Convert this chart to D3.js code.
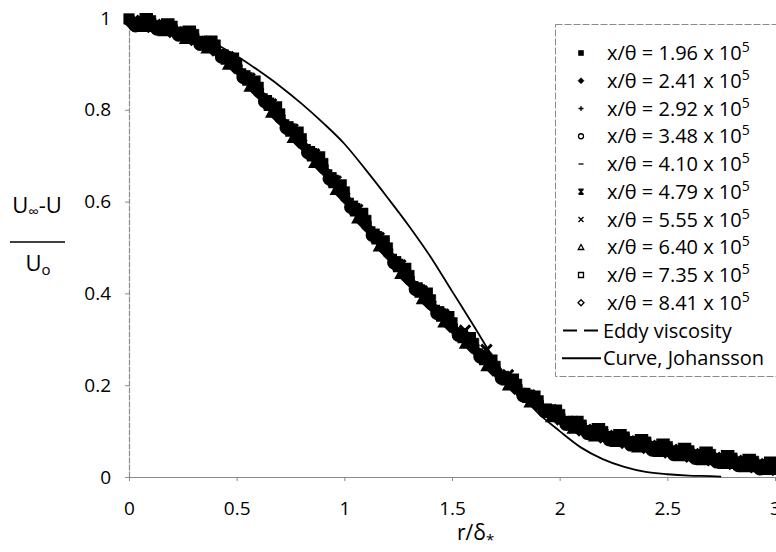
<!DOCTYPE html>
<html><head><meta charset="utf-8">
<script src="https://cdn.jsdelivr.net/npm/d3@7"></script>
<style>
html,body{margin:0;padding:0;background:#fff;}
svg{display:block;font-family:"Open Sans","Noto Sans",sans-serif;}
</style></head>
<body>
<svg id="chart" width="776" height="552"></svg>
<script>
// ---------- DATA ----------
const xTicks = [0, 0.5, 1, 1.5, 2, 2.5, 3];
const yTicks = [0, 0.2, 0.4, 0.6, 0.8, 1];
const seriesLabels = ["1.96", "2.41", "2.92", "3.48", "4.10", "4.79", "5.55", "6.40", "7.35", "8.41"];
const markerTypes = ["fsquare", "fdiamond", "plus", "circle", "dash", "star", "cross", "triangle", "square", "diamond"];

const r196 = [0,0.1,0.2,0.3,0.4,0.5,0.6,0.7,0.8,0.9,1,1.1,1.2,1.3,1.4,1.5,1.6,1.7,1.8,1.9,2,2.1,2.2,2.3,2.4,2.5,2.6,2.7,2.8,2.9,3];
const v196 = [0.998,0.994,0.982,0.964,0.941,0.901,0.849,0.791,0.737,0.683,0.621,0.559,0.499,0.439,0.386,0.336,0.291,0.241,0.202,0.166,0.136,0.113,0.099,0.087,0.076,0.066,0.057,0.049,0.041,0.034,0.028];
const r241 = [0.01,0.11,0.21,0.31,0.41,0.51,0.61,0.71,0.81,0.91,1.01,1.11,1.21,1.31,1.41,1.51,1.61,1.71,1.81,1.91,2.01,2.11,2.21,2.31,2.41,2.51,2.61,2.71,2.81,2.91];
const v241 = [0.987,0.982,0.969,0.951,0.926,0.885,0.832,0.775,0.721,0.666,0.604,0.542,0.482,0.423,0.370,0.321,0.275,0.226,0.187,0.152,0.123,0.101,0.087,0.075,0.064,0.054,0.045,0.037,0.029,0.022];
const r292 = [0.02,0.12,0.22,0.32,0.42,0.52,0.62,0.72,0.82,0.92,1.02,1.12,1.22,1.32,1.42,1.52,1.62,1.72,1.82,1.92,2.02,2.12,2.22,2.32,2.42,2.52,2.62,2.72,2.82,2.92];
const v292 = [0.993,0.988,0.974,0.955,0.929,0.887,0.833,0.776,0.722,0.667,0.605,0.543,0.483,0.424,0.372,0.323,0.277,0.229,0.191,0.156,0.127,0.106,0.093,0.081,0.070,0.060,0.051,0.043,0.036,0.029];
const r348 = [0.03,0.13,0.23,0.33,0.43,0.53,0.63,0.73,0.83,0.93,1.03,1.13,1.23,1.33,1.43,1.53,1.63,1.73,1.83,1.93,2.03,2.13,2.23,2.33,2.43,2.53,2.63,2.73,2.83,2.93];
const v348 = [0.983,0.976,0.963,0.943,0.915,0.871,0.818,0.761,0.707,0.650,0.588,0.527,0.467,0.409,0.357,0.309,0.262,0.215,0.177,0.143,0.115,0.095,0.081,0.070,0.059,0.049,0.041,0.033,0.025,0.018];
const r410 = [0.04,0.14,0.24,0.34,0.44,0.54,0.64,0.74,0.84,0.94,1.04,1.14,1.24,1.34,1.44,1.54,1.64,1.74,1.84,1.94,2.04,2.14,2.24,2.34,2.44,2.54,2.64,2.74,2.84,2.94];
const v410 = [0.999,0.992,0.978,0.958,0.928,0.883,0.829,0.772,0.718,0.661,0.599,0.538,0.478,0.421,0.369,0.321,0.274,0.228,0.191,0.157,0.130,0.110,0.097,0.086,0.075,0.065,0.057,0.049,0.041,0.035];
const r479 = [0.05,0.15,0.25,0.35,0.45,0.55,0.65,0.75,0.85,0.95,1.05,1.15,1.25,1.35,1.45,1.55,1.65,1.75,1.85,1.95,2.05,2.15,2.25,2.35,2.45,2.55,2.65,2.75,2.85,2.95];
const v479 = [0.988,0.980,0.965,0.945,0.913,0.867,0.812,0.756,0.702,0.644,0.582,0.521,0.461,0.405,0.353,0.306,0.258,0.214,0.176,0.143,0.117,0.098,0.085,0.074,0.063,0.054,0.045,0.037,0.030,0.023];
const r555 = [0.06,0.16,0.26,0.36,0.46,0.56,0.66,0.76,0.86,0.96,1.06,1.16,1.26,1.36,1.46,1.56,1.66,1.76,1.86,1.96,2.06,2.16,2.26,2.36,2.46,2.56,2.66,2.76,2.86,2.96];
const v555 = [0.994,0.985,0.969,0.948,0.915,0.868,0.812,0.757,0.703,0.644,0.582,0.521,0.461,0.405,0.354,0.319,0.277,0.222,0.178,0.146,0.120,0.103,0.090,0.078,0.068,0.059,0.050,0.042,0.035,0.028];
const r640 = [0.07,0.17,0.27,0.37,0.47,0.57,0.67,0.77,0.87,0.97,1.07,1.17,1.27,1.37,1.47,1.57,1.67,1.77,1.87,1.97,2.07,2.17,2.27,2.37,2.47,2.57,2.67,2.77,2.87,2.97];
const v640 = [0.983,0.974,0.957,0.936,0.901,0.853,0.796,0.741,0.687,0.628,0.566,0.505,0.445,0.390,0.339,0.293,0.244,0.202,0.165,0.133,0.108,0.091,0.079,0.067,0.057,0.048,0.039,0.031,0.024,0.018];
const r735 = [0.08,0.18,0.28,0.38,0.48,0.58,0.68,0.78,0.88,0.98,1.08,1.18,1.28,1.38,1.48,1.58,1.68,1.78,1.88,1.98,2.08,2.18,2.28,2.38,2.48,2.58,2.68,2.78,2.88,2.98];
const v735 = [0.996,0.985,0.969,0.947,0.910,0.860,0.804,0.749,0.695,0.634,0.572,0.512,0.452,0.398,0.347,0.301,0.252,0.211,0.174,0.143,0.119,0.103,0.090,0.079,0.069,0.060,0.052,0.044,0.036,0.030];
const r841 = [0.09,0.19,0.29,0.39,0.49,0.59,0.69,0.79,0.89,0.99,1.09,1.19,1.29,1.39,1.49,1.59,1.69,1.79,1.89,1.99,2.09,2.19,2.29,2.39,2.49,2.59,2.69,2.79,2.89,2.99];
const v841 = [0.985,0.974,0.957,0.934,0.896,0.845,0.788,0.733,0.679,0.618,0.556,0.496,0.436,0.382,0.332,0.287,0.237,0.197,0.161,0.130,0.106,0.091,0.079,0.068,0.058,0.049,0.041,0.033,0.026,0.020];

// Curve, Johansson
const johR = [0,0.1,0.2,0.3,0.4,0.5,0.6,0.7,0.8,0.9,1.0,1.1,1.2,1.3,1.4,1.5,1.6,1.7,1.8,1.9,2.0,2.1,2.2,2.3,2.4,2.5,2.6,2.7,2.75];
const johV = [0.995,0.990,0.979,0.963,0.944,0.917,0.886,0.852,0.814,0.772,0.726,0.669,0.609,0.547,0.480,0.405,0.330,0.254,0.190,0.139,0.100,0.064,0.039,0.022,0.011,0.006,0.003,0.002,0.001];

const seriesR = [r196, r241, r292, r348, r410, r479, r555, r640, r735, r841];
const seriesV = [v196, v241, v292, v348, v410, v479, v555, v640, v735, v841];

// ---------- CHART ----------
const svg = d3.select("#chart");
const x = d3.scaleLinear().domain([0, 3]).range([129, 775]);
const y = d3.scaleLinear().domain([0, 1]).range([477, 18]);

// axes
const xAxis = svg.append("g").attr("transform", `translate(0,${y(0)})`)
  .call(d3.axisBottom(x).tickValues(xTicks).tickFormat(d3.format("")).tickSizeInner(4).tickSizeOuter(0).tickPadding(21));
const yAxis = svg.append("g").attr("transform", `translate(${x(0)},0)`)
  .call(d3.axisLeft(y).tickValues(yTicks).tickFormat(d3.format("")).tickSizeInner(4).tickSizeOuter(0).tickPadding(14));
[xAxis, yAxis].forEach(g => {
  g.select(".domain").attr("stroke", "#8a8a8a").attr("stroke-width", 1.2);
  g.selectAll(".tick line").attr("stroke", "#8a8a8a");
  g.selectAll(".tick text").attr("fill", "#000").attr("font-size", 19).attr("font-family", "Open Sans, sans-serif");
});
yAxis.select(".domain").attr("stroke-dasharray", "6,1");

// marker shapes
function markerPath(type, s) {
  const h = s / 2;
  switch (type) {
    case "fsquare": case "square": return `M${-h},${-h}H${h}V${h}H${-h}Z`;
    case "fdiamond": case "diamond": return `M0,${-h * 1.2}L${h * 1.2},0L0,${h * 1.2}L${-h * 1.2},0Z`;
    case "plus": return `M${-h},0H${h}M0,${-h}V${h}`;
    case "circle": return d3.arc()({innerRadius: 0, outerRadius: h, startAngle: 0, endAngle: 2 * Math.PI});
    case "dash": return `M${-h},0H${h}`;
    case "star": return `M${-h},${-h}L${h},${h}M${h},${-h}L${-h},${h}M0,${-h}V${h}M${-h},${-h}H${h}M${-h},${h}H${h}`;
    case "cross": return `M${-h},${-h}L${h},${h}M${h},${-h}L${-h},${h}`;
    case "triangle": return `M0,${-h * 1.1}L${h * 1.1},${h * 0.9}L${-h * 1.1},${h * 0.9}Z`;
  }
}
function styleMarker(sel, type, solid) {
  const filled = type === "fsquare" || type === "fdiamond";
  sel.attr("fill", (filled || solid) ? "#000" : "none")
     .attr("stroke", "#000")
     .attr("stroke-width", filled ? 0.6 : (solid ? 3 : 1.3));
}

// data markers (dense overlap -> solid black band, as in the printed figure)
const plot = svg.append("g");
seriesR.forEach((rs, k) => {
  const pts = rs.map((r, i) => ({r: r, v: seriesV[k][i]}));
  plot.append("g").selectAll("path").data(pts).join("path")
    .attr("transform", d => `translate(${x(d.r)},${y(d.v)})`)
    .attr("d", markerPath(markerTypes[k], 10.5))
    .call(styleMarker, markerTypes[k], true);
});

// Johansson curve
const johData = johR.map((r, i) => ({r: r, v: johV[i]}));
svg.append("path").datum(johData)
  .attr("fill", "none").attr("stroke", "#000").attr("stroke-width", 1.8)
  .attr("d", d3.line().x(d => x(d.r)).y(d => y(d.v)).curve(d3.curveMonotoneX));

// legend
const lg = svg.append("g");
lg.append("rect").attr("x", 555.5).attr("y", 24.5).attr("width", 230).attr("height", 352)
  .attr("fill", "#fff").attr("stroke", "#8a8a8a").attr("stroke-width", 1).attr("stroke-dasharray", "7,2");
const rowY = i => 53 + 27.75 * i;
seriesLabels.forEach((lab, i) => {
  lg.append("path").attr("transform", `translate(581,${rowY(i)})`)
    .attr("d", markerPath(markerTypes[i], 5)).call(styleMarker, markerTypes[i], false);
  const t = lg.append("text").attr("x", 607).attr("y", rowY(i) + 7)
    .attr("font-size", 20).attr("fill", "#000");
  t.append("tspan").text(`x/θ = ${lab} x 10`);
  t.append("tspan").attr("dy", -8).attr("font-size", 14).text("5");
});
// Eddy viscosity
lg.append("line").attr("x1", 563).attr("x2", 599).attr("y1", rowY(10)).attr("y2", rowY(10))
  .attr("stroke", "#000").attr("stroke-width", 2).attr("stroke-dasharray", "14,7");
lg.append("text").attr("x", 603).attr("y", rowY(10) + 7).attr("font-size", 20).text("Eddy viscosity");
lg.append("line").attr("x1", 562).attr("x2", 601).attr("y1", rowY(11)).attr("y2", rowY(11))
  .attr("stroke", "#000").attr("stroke-width", 2);
lg.append("text").attr("x", 603).attr("y", rowY(11) + 7).attr("font-size", 20).text("Curve, Johansson");

// axis titles
const xt = svg.append("text").attr("x", 457).attr("y", 540).attr("font-size", 21).attr("fill", "#000");
xt.append("tspan").text("r/δ");
xt.append("tspan").attr("dy", 5).attr("font-size", 15).text("*");

const yt1 = svg.append("text").attr("x", 37).attr("y", 213).attr("text-anchor", "middle").attr("font-size", 22);
yt1.append("tspan").text("U");
yt1.append("tspan").attr("dy", 4).attr("font-size", 15).text("∞");
yt1.append("tspan").attr("dy", -4).text("-U");
svg.append("line").attr("x1", 10).attr("x2", 65).attr("y1", 242).attr("y2", 242).attr("stroke", "#000").attr("stroke-width", 1.5);
const yt2 = svg.append("text").attr("x", 38).attr("y", 271).attr("text-anchor", "middle").attr("font-size", 22);
yt2.append("tspan").text("U");
yt2.append("tspan").attr("dy", 4).attr("font-size", 15).text("o");
</script>
</body></html>
